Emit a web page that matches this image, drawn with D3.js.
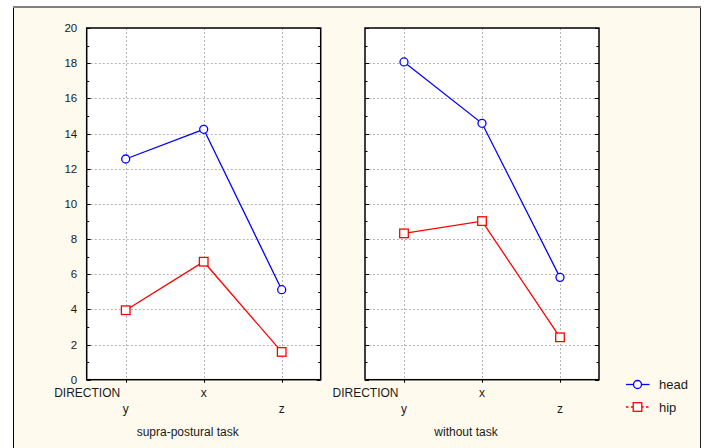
<!DOCTYPE html>
<html>
<head>
<meta charset="utf-8">
<script src="https://cdn.jsdelivr.net/npm/d3@7"></script>
<style>
  html, body { margin: 0; padding: 0; background: #ffffff; }
  svg { display: block; font-family: "Liberation Sans", Arial, sans-serif; }
</style>
</head>
<body>
<svg id="chart" width="705" height="448"></svg>
<script>
const categories = ["y", "x", "z"];
const panels = ["supra-postural task", "without task"];
const seriesNames = ["head", "hip"];
const headSupra = [12.55, 14.24, 5.12];
const hipSupra = [3.95, 6.71, 1.58];
const headWithout = [18.07, 14.58, 5.82];
const hipWithout = [8.32, 9.02, 2.41];
const yTicks = [0, 2, 4, 6, 8, 10, 12, 14, 16, 18, 20];
const yMinorTicks = [1, 3, 5, 7, 9, 11, 13, 15, 17, 19];
const factorLabel = "DIRECTION";

const panelData = [
  { title: panels[0], head: headSupra, hip: hipSupra },
  { title: panels[1], head: headWithout, hip: hipWithout }
];

const svg = d3.select("#chart");
const colors = { head: "#0000ff", hip: "#ff0000" };
const textColor = "#1a1a1a";

// outer frame
svg.append("rect").attr("x", 13.5).attr("y", 7).attr("width", 686.5).attr("height", 460)
  .attr("fill", "#fffaee").attr("stroke", "none");
svg.append("line").attr("x1", 13).attr("x2", 701).attr("y1", 7).attr("y2", 7)
  .attr("stroke", "#808080").attr("stroke-width", 2);
svg.append("line").attr("x1", 13.5).attr("x2", 13.5).attr("y1", 8).attr("y2", 448)
  .attr("stroke", "#000").attr("stroke-width", 1);
svg.append("line").attr("x1", 700.5).attr("x2", 700.5).attr("y1", 8).attr("y2", 448)
  .attr("stroke", "#202020").attr("stroke-width", 1);

const plotTop = 28, plotBottom = 379.7;
const panelLefts = [86.7, 365];
const panelWidth = 234;

const y = d3.scaleLinear().domain([0, 20]).range([plotBottom, plotTop]);

panelData.forEach((pd, i) => {
  const left = panelLefts[i];
  const x = d3.scalePoint().domain(categories).range([left, left + panelWidth]).padding(0.5);
  const g = svg.append("g");

  g.append("rect").attr("x", left).attr("y", plotTop).attr("width", panelWidth).attr("height", plotBottom - plotTop)
    .attr("fill", "#ffffff");

  // grid
  g.selectAll(".hg").data(yTicks.filter(t => t > 0 && t < 20)).enter().append("line")
    .attr("x1", left).attr("x2", left + panelWidth)
    .attr("y1", d => Math.round(y(d)) + 0.5).attr("y2", d => Math.round(y(d)) + 0.5)
    .attr("stroke", "#b4b4b4").attr("stroke-width", 1).attr("stroke-dasharray", "2,2");
  g.selectAll(".vg").data(categories).enter().append("line")
    .attr("x1", d => Math.round(x(d)) + 0.5).attr("x2", d => Math.round(x(d)) + 0.5)
    .attr("y1", plotTop).attr("y2", plotBottom)
    .attr("stroke", "#b4b4b4").attr("stroke-width", 1).attr("stroke-dasharray", "2,2");

  // ticks: major inside left and right
  const tickG = g.append("g").attr("stroke", "#000").attr("stroke-width", 1);
  yTicks.forEach(t => {
    const yy = Math.round(y(t)) + 0.5;
    tickG.append("line").attr("x1", left).attr("x2", left + 4).attr("y1", yy).attr("y2", yy);
    tickG.append("line").attr("x1", left + panelWidth - 4).attr("x2", left + panelWidth).attr("y1", yy).attr("y2", yy);
  });
  yMinorTicks.forEach(t => {
    const yy = Math.round(y(t)) + 0.5;
    tickG.append("line").attr("x1", left).attr("x2", left + 2.5).attr("y1", yy).attr("y2", yy);
    tickG.append("line").attr("x1", left + panelWidth - 2.5).attr("x2", left + panelWidth).attr("y1", yy).attr("y2", yy);
  });
  categories.forEach(c => {
    const xx = Math.round(x(c)) + 0.5;
    tickG.append("line").attr("x1", xx).attr("x2", xx).attr("y1", plotBottom).attr("y2", plotBottom + 3);
  });

  // frame of plot
  g.append("rect").attr("x", left).attr("y", plotTop).attr("width", panelWidth).attr("height", plotBottom - plotTop)
    .attr("fill", "none").attr("stroke", "#000").attr("stroke-width", 1.5);

  // y tick labels (only left panel)
  if (i === 0) {
    g.selectAll(".yl").data(yTicks).enter().append("text")
      .attr("x", left - 9.5).attr("y", d => y(d) + 4)
      .attr("text-anchor", "end").attr("font-size", 11.5).attr("fill", textColor)
      .text(d => d);
  }

  // category labels (staggered)
  categories.forEach((c, k) => {
    g.append("text").attr("x", x(c)).attr("y", k % 2 === 1 ? 397 : 412.5)
      .attr("text-anchor", "middle").attr("font-size", 12).attr("fill", textColor).text(c);
  });
  g.append("text").attr("x", x(categories[0]) - 5.5).attr("y", 397)
    .attr("text-anchor", "end").attr("font-size", 12).attr("fill", textColor).text(factorLabel);

  g.append("text").attr("x", left + panelWidth / 2 - 16).attr("y", 435.5)
    .attr("text-anchor", "middle").attr("font-size", 12).attr("fill", textColor).text(pd.title);

  // lines
  const line = d3.line().x((d, k) => x(categories[k])).y(d => y(d));
  g.append("path").datum(pd.head).attr("d", line).attr("fill", "none")
    .attr("stroke", colors.head).attr("stroke-width", 1.3);
  g.append("path").datum(pd.hip).attr("d", line).attr("fill", "none")
    .attr("stroke", colors.hip).attr("stroke-width", 1.3);

  g.selectAll(".hc").data(pd.head).enter().append("circle")
    .attr("cx", (d, k) => x(categories[k])).attr("cy", d => y(d)).attr("r", 4)
    .attr("fill", "#fff").attr("stroke", colors.head).attr("stroke-width", 1.3);
  g.selectAll(".hs").data(pd.hip).enter().append("rect")
    .attr("x", (d, k) => x(categories[k]) - 4.3).attr("y", d => y(d) - 4.3)
    .attr("width", 8.6).attr("height", 8.6)
    .attr("fill", "#fff").attr("stroke", colors.hip).attr("stroke-width", 1.3);
});

// legend
const lg = svg.append("g");
const legY = [384.5, 407];
lg.append("line").attr("x1", 626).attr("x2", 649.5).attr("y1", legY[0]).attr("y2", legY[0])
  .attr("stroke", colors.head).attr("stroke-width", 1.3);
lg.append("circle").attr("cx", 637.5).attr("cy", legY[0]).attr("r", 4)
  .attr("fill", "#fff").attr("stroke", colors.head).attr("stroke-width", 1.3);
lg.append("line").attr("x1", 626).attr("x2", 649.5).attr("y1", legY[1]).attr("y2", legY[1])
  .attr("stroke", colors.hip).attr("stroke-width", 1.3).attr("stroke-dasharray", "2.5,2.5");
lg.append("rect").attr("x", 633.2).attr("y", legY[1] - 4.3).attr("width", 8.6).attr("height", 8.6)
  .attr("fill", "#fff").attr("stroke", colors.hip).attr("stroke-width", 1.3);
seriesNames.forEach((s, k) => {
  lg.append("text").attr("x", 659).attr("y", legY[k] + 4.5)
    .attr("font-size", 13).attr("fill", textColor).text(s);
});
</script>
</body>
</html>
